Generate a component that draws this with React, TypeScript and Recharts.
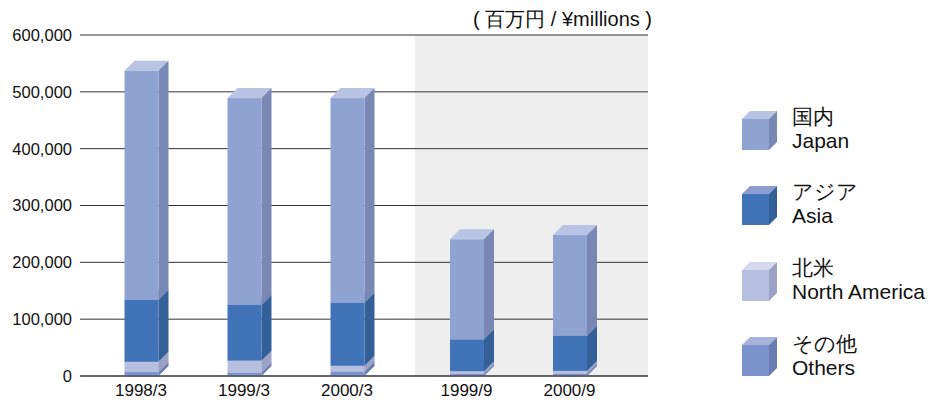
import React from "react";
import { BarChart, Bar, XAxis, YAxis, CartesianGrid } from "recharts";

// fiscal year ends (March) and half-year ends (September)
const annualPeriods = ["1998/3", "1999/3", "2000/3"];
const halfPeriods = ["1999/9", "2000/9"];

// ¥ millions
const japanAnnual = [403000, 364000, 360000];
const asiaAnnual = [109000, 98000, 111000];
const northAmericaAnnual = [18000, 21000, 10000];
const othersAnnual = [7000, 6000, 8000];

const japanHalf = [176000, 177000];
const asiaHalf = [56000, 62000];
const northAmericaHalf = [5000, 5000];
const othersHalf = [3500, 4000];

const yTicks = [0, 100000, 200000, 300000, 400000, 500000, 600000];

// bottom to top
const series = [
  { key: "others", ja: "その他", en: "Others", front: "#7c92ca", side: "#6a7cb2", top: "#a5b3dc" },
  { key: "northAmerica", ja: "北米", en: "North America", front: "#b6bfe0", side: "#9ca2c5", top: "#d3d9ee" },
  { key: "asia", ja: "アジア", en: "Asia", front: "#4073b7", side: "#34609a", top: "#8c9ecf" },
  { key: "japan", ja: "国内", en: "Japan", front: "#8fa3d2", side: "#7887b4", top: "#b9c3e4" },
];

const annualData = annualPeriods.map((p, i) => ({
  period: p,
  japan: japanAnnual[i],
  asia: asiaAnnual[i],
  northAmerica: northAmericaAnnual[i],
  others: othersAnnual[i],
}));

const halfData = halfPeriods.map((p, i) => ({
  period: p,
  japan: japanHalf[i],
  asia: asiaHalf[i],
  northAmerica: northAmericaHalf[i],
  others: othersHalf[i],
}));

const FONT = "'Liberation Sans', Arial, Helvetica, sans-serif";
const GRID = "#333333";

// 3d looking box for one stacked segment
const Box3D = (props: any) => {
  const { x, y, width, height, front, side, top } = props;
  if (!height || height <= 0) return null;
  const d = 10;
  return (
    <g>
      <polygon
        points={`${x},${y} ${x + d},${y - d} ${x + width + d},${y - d} ${x + width},${y}`}
        fill={top}
      />
      <polygon
        points={`${x + width},${y} ${x + width + d},${y - d} ${x + width + d},${y + height - d} ${x + width},${y + height}`}
        fill={side}
      />
      <rect x={x} y={y} width={width} height={height} fill={front} />
    </g>
  );
};

const renderBars = () =>
  series.map((s) => (
    <Bar
      key={s.key}
      dataKey={s.key}
      stackId="a"
      barSize={34}
      isAnimationActive={false}
      shape={(p: any) => <Box3D {...p} front={s.front} side={s.side} top={s.top} />}
    />
  ));

const LegendIcon = ({ front, side, top }: any) => (
  <svg width={37} height={40} style={{ display: "block" }}>
    <polygon points="0,8 8,0 35,0 27,8" fill={top} />
    <polygon points="27,8 35,0 35,31 27,39" fill={side} />
    <rect x={0} y={8} width={27} height={31} fill={front} />
  </svg>
);

const App = () => {
  const legendItems = [...series].reverse();
  return (
    <div
      style={{
        position: "absolute",
        left: 0,
        top: 0,
        width: 931,
        height: 400,
        background: "#fff",
        fontFamily: FONT,
        overflow: "hidden",
      }}
    >
      <div style={{ position: "absolute", left: 0, top: 0 }}>
        <BarChart
          width={415}
          height={400}
          data={annualData}
          margin={{ top: 35, right: 0, bottom: 0, left: 0 }}
        >
          <CartesianGrid vertical={false} stroke={GRID} strokeOpacity={1} />
          <XAxis
            dataKey="period"
            height={24}
            padding={{ left: 9.5, right: 16.5 }}
            tickLine={false}
            axisLine={{ stroke: GRID }}
            tick={{ fill: "#111", fontSize: 17, fontFamily: FONT }}
          />
          <YAxis
            width={80}
            domain={[0, 600000]}
            ticks={yTicks}
            tickLine={false}
            axisLine={false}
            tickFormatter={(v: number) => v.toLocaleString("en-US")}
            tick={{ fill: "#111", fontSize: 16.5, fontFamily: FONT }}
          />
          {renderBars()}
        </BarChart>
      </div>

      <div style={{ position: "absolute", left: 415, top: 0 }}>
        <BarChart
          width={240}
          height={400}
          data={halfData}
          margin={{ top: 35, right: 7, bottom: 0, left: 0 }}
        >
          <CartesianGrid vertical={false} stroke={GRID} fill="#eeeeee" fillOpacity={1} />
          <XAxis
            dataKey="period"
            height={24}
            padding={{ left: 0, right: 27 }}
            tickLine={false}
            axisLine={{ stroke: GRID }}
            tick={{ fill: "#111", fontSize: 17, fontFamily: FONT }}
          />
          <YAxis hide domain={[0, 600000]} ticks={yTicks} />
          {renderBars()}
        </BarChart>
      </div>

      <div
        style={{
          position: "absolute",
          right: 931 - 652,
          top: 7,
          fontSize: 20,
          lineHeight: "24px",
          color: "#111",
          whiteSpace: "nowrap",
        }}
      >
        ( 百万円 / ¥millions )
      </div>

      {legendItems.map((s, i) => (
        <React.Fragment key={s.key}>
          <div style={{ position: "absolute", left: 742, top: 110.7 + i * 75.4 }}>
            <LegendIcon front={s.front} side={s.side} top={s.top} />
          </div>
          <div
            style={{
              position: "absolute",
              left: 792,
              top: 104.5 + i * 75.8,
              fontSize: 21,
              lineHeight: "24px",
              color: "#111",
              whiteSpace: "nowrap",
            }}
          >
            <div>{s.ja}</div>
            <div>{s.en}</div>
          </div>
        </React.Fragment>
      ))}
    </div>
  );
};

export default App;
